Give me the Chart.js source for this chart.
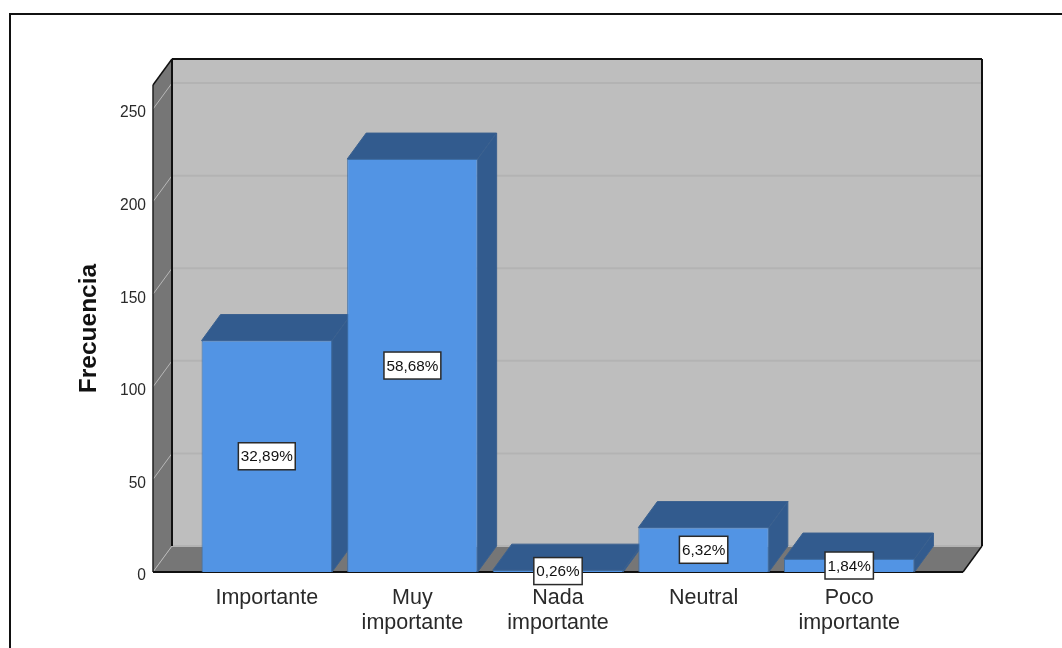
<!DOCTYPE html>
<html>
<head>
<meta charset="utf-8">
<script src="https://cdn.jsdelivr.net/npm/chart.js@4"></script>
<style>
    html, body { margin: 0; padding: 0; background: #fff; overflow: hidden; }
    canvas { display: block; }
</style>
</head>
<body>
<canvas id="chart" width="1062" height="648"></canvas>
<script>
const categories = [["Importante"], ["Muy", "importante"], ["Nada", "importante"], ["Neutral"], ["Poco", "importante"]];
const counts = [125, 223, 1, 24, 7];
const percentLabels = ["32,89%", "58,68%", "0,26%", "6,32%", "1,84%"];
const yTicks = [0, 50, 100, 150, 200, 250];

// box depth and how far the floor runs past the outer bands
const depthX = 19;
const depthY = -26;
const sideGap = 41;

function poly(ctx, points, fill, stroke) {
    ctx.beginPath();
    points.forEach((p, i) => i ? ctx.lineTo(p[0], p[1]) : ctx.moveTo(p[0], p[1]));
    ctx.closePath();
    ctx.fillStyle = fill;
    ctx.fill();
    if (stroke) {
        ctx.strokeStyle = stroke;
        ctx.lineWidth = 1;
        ctx.stroke();
    }
}

function line(ctx, x1, y1, x2, y2, color, width) {
    ctx.beginPath();
    ctx.moveTo(x1, y1);
    ctx.lineTo(x2, y2);
    ctx.strokeStyle = color;
    ctx.lineWidth = width;
    ctx.stroke();
}

const box3d = {
    id: "box3d",
    beforeDatasetsDraw(chart) {
        const { ctx, chartArea, scales } = chart;
        const left = chartArea.left - sideGap;
        const right = chartArea.right + sideGap;
        const top = chartArea.top;
        const bottom = chartArea.bottom;

        ctx.save();
        // back wall, left wall and floor
        poly(ctx, [[left + depthX, top + depthY], [right + depthX, top + depthY], [right + depthX, bottom + depthY], [left + depthX, bottom + depthY]], "#bebebe");
        poly(ctx, [[left, top], [left + depthX, top + depthY], [left + depthX, bottom + depthY], [left, bottom]], "#767676");
        poly(ctx, [[left, bottom], [left + depthX, bottom + depthY], [right + depthX, bottom + depthY], [right, bottom]], "#767676");

        yTicks.forEach(v => {
            const y = scales.y.getPixelForValue(v);
            line(ctx, left + depthX, y + depthY, right + depthX, y + depthY, "#b3b3b3", 2);
            line(ctx, left, y, left + depthX, y + depthY, "#b8b8b8", 1);
        });

        // box outline
        line(ctx, left, bottom, left, top, "#222", 1.5);
        line(ctx, left, top, left + depthX, top + depthY, "#111", 1.5);
        line(ctx, left + depthX, top + depthY, right + depthX, top + depthY, "#111", 2);
        line(ctx, left + depthX, top + depthY, left + depthX, bottom + depthY, "#111", 2);
        line(ctx, right + depthX, top + depthY, right + depthX, bottom + depthY, "#111", 2);
        line(ctx, right + depthX, bottom + depthY, right, bottom, "#111", 1.5);
        line(ctx, left, bottom, right, bottom, "#111", 2);

        // top and side faces of the bars, the fronts get painted over them
        chart.getDatasetMeta(0).data.forEach(bar => {
            const l = bar.x - bar.width / 2;
            const r = bar.x + bar.width / 2;
            poly(ctx, [[l, bar.y], [l + depthX, bar.y + depthY], [r + depthX, bar.y + depthY], [r, bar.y]], "#325b8e", "#3b618f");
            poly(ctx, [[r, bar.y], [r + depthX, bar.y + depthY], [r + depthX, bottom + depthY], [r, bottom]], "#325b8e", "#3b618f");
        });
        ctx.restore();
    },
    afterDraw(chart) {
        const { ctx } = chart;
        ctx.save();
        // frame around the figure
        ctx.strokeStyle = "#111";
        ctx.lineWidth = 2;
        ctx.beginPath();
        ctx.moveTo(10, 648);
        ctx.lineTo(10, 14);
        ctx.lineTo(1062, 14);
        ctx.stroke();

        // percentage boxes
        ctx.font = "15.3px 'Liberation Sans'";
        ctx.textAlign = "center";
        ctx.textBaseline = "middle";
        chart.getDatasetMeta(0).data.forEach((bar, i) => {
            const x = bar.x;
            const y = (bar.y + bar.base) / 2;
            const w = ctx.measureText(percentLabels[i]).width + 5;
            const h = 27;
            ctx.fillStyle = "#fff";
            ctx.fillRect(x - w / 2, y - h / 2, w, h);
            ctx.strokeStyle = "#2a2a2a";
            ctx.lineWidth = 1.5;
            ctx.strokeRect(x - w / 2, y - h / 2, w, h);
            ctx.fillStyle = "#111";
            ctx.fillText(percentLabels[i], x, y + 1);
        });
        ctx.restore();
    }
};

new Chart(document.getElementById("chart"), {
    type: "bar",
    data: {
        labels: categories,
        datasets: [{
            data: counts,
            backgroundColor: "#5294e4",
            borderColor: "#3c6ea8",
            borderWidth: 1,
            barPercentage: 0.896,
            categoryPercentage: 1
        }]
    },
    options: {
        responsive: false,
        animation: false,
        layout: { padding: { left: 74.5, right: 140, top: 85, bottom: 0 } },
        plugins: {
            legend: { display: false },
            tooltip: { enabled: false }
        },
        scales: {
            x: {
                grid: { display: false },
                border: { display: false },
                afterFit: scale => { scale.height = 76; },
                ticks: {
                    padding: 6,
                    maxRotation: 0,
                    color: "#2a2a2a",
                    font: { family: "'Liberation Sans'", size: 21.5, lineHeight: 1.16 }
                }
            },
            y: {
                min: 0,
                max: 263,
                grid: { display: false },
                border: { display: false },
                afterFit: scale => { scale.width = 119.5; },
                title: {
                    display: true,
                    text: "Frecuencia",
                    color: "#111",
                    padding: { top: 0, bottom: 0 },
                    font: { family: "'Liberation Sans'", size: 24.5, weight: "bold" }
                },
                ticks: {
                    stepSize: 50,
                    includeBounds: false,
                    padding: 40,
                    labelOffset: 4,
                    color: "#2a2a2a",
                    font: { family: "'Liberation Sans'", size: 15.6 }
                }
            }
        }
    },
    plugins: [box3d]
});
</script>
</body>
</html>
